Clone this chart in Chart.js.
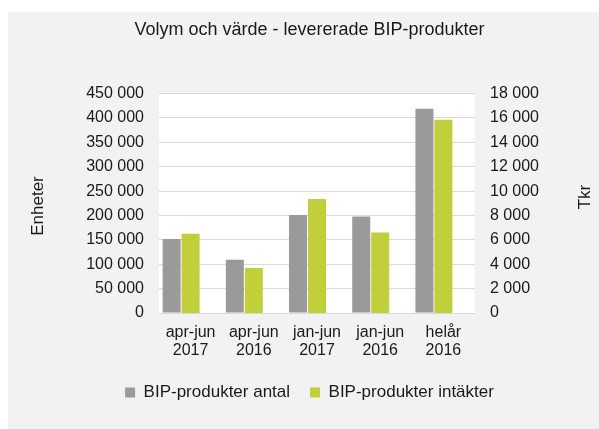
<!DOCTYPE html>
<html>
<head>
<meta charset="utf-8">
<script src="https://cdn.jsdelivr.net/npm/chart.js@4/dist/chart.umd.min.js"></script>
<style>
  html, body { margin: 0; padding: 0; background: #fff; }
</style>
</head>
<body>
<canvas id="chart" width="599" height="429"></canvas>
<script>
"use strict";

const periods = [["apr-jun", "2017"], ["apr-jun", "2016"], ["jan-jun", "2017"], ["jan-jun", "2016"], ["helår", "2016"]];
const antal = [152000, 109000, 201000, 198000, 419000];
const intakter = [6500, 3700, 9350, 6600, 15850];
const empty = [null, null, null, null, null];
const leftMax = 450000, leftStep = 50000;
const rightMax = 18000, rightStep = 2000;
const titleText = "Volym och värde - levererade BIP-produkter";
const leftTitle = "Enheter";
const rightTitle = "Tkr";

const textColor = "#1a1a1a";
const fontFamily = "'Liberation Sans', Arial, sans-serif";

function spaced(v) {
    return String(v).replace(/\B(?=(\d{3})+(?!\d))/g, " ");
}

// gray panel + white plot area
const backgroundPlugin = {
    id: "bg",
    beforeDraw(chart) {
        const ctx = chart.ctx;
        const a = chart.chartArea;
        ctx.save();
        ctx.fillStyle = "#f2f2f2";
        ctx.fillRect(8, 12, chart.width - 8, chart.height - 12);
        ctx.fillStyle = "#ffffff";
        ctx.fillRect(a.left, a.top, a.right - a.left, a.bottom - a.top);
        ctx.restore();
    }
};

// axis titles, both reading bottom to top
const axisTitlePlugin = {
    id: "axisTitles",
    afterDraw(chart) {
        const ctx = chart.ctx;
        ctx.save();
        ctx.fillStyle = textColor;
        ctx.font = "17px " + fontFamily;
        ctx.textAlign = "center";
        ctx.textBaseline = "middle";
        [[leftTitle, 38, 206], [rightTitle, 585, 197]].forEach(function(t) {
            ctx.save();
            ctx.translate(t[1], t[2]);
            ctx.rotate(-Math.PI / 2);
            ctx.fillText(t[0], 0, 0);
            ctx.restore();
        });
        ctx.restore();
    }
};

const chart = new Chart(document.getElementById("chart"), {
    type: "bar",
    data: {
        labels: periods,
        datasets: [{
            label: "BIP-produkter antal",
            data: antal,
            backgroundColor: "#9a9a9a",
            yAxisID: "y"
        }, {
            label: "BIP-produkter intäkter",
            data: intakter,
            backgroundColor: "#c0cf3a",
            yAxisID: "y2"
        }, {
            label: "",
            data: empty,
            backgroundColor: "transparent",
            yAxisID: "y"
        }]
    },
    options: {
        responsive: false,
        animation: false,
        devicePixelRatio: 1,
        categoryPercentage: 0.9,
        barPercentage: 0.95,
        layout: { padding: { left: 20, right: 0, top: 0, bottom: 18 } },
        plugins: {
            title: {
                display: true,
                text: titleText,
                color: textColor,
                font: { family: fontFamily, size: 18, weight: "normal" },
                padding: { top: 19, bottom: 53 }
            },
            legend: {
                position: "bottom",
                labels: {
                    boxWidth: 10,
                    boxHeight: 10,
                    color: textColor,
                    padding: 20,
                    font: { family: fontFamily, size: 17 },
                    filter: function(item) { return item.text !== ""; }
                }
            },
            tooltip: { enabled: false }
        },
        scales: {
            x: {
                grid: { display: false },
                border: { display: false },
                ticks: {
                    color: textColor,
                    padding: 3,
                    maxRotation: 0,
                    font: { family: fontFamily, size: 16, lineHeight: 1.12 }
                },
                afterFit(scale) { scale.height = 51; }
            },
            y: {
                position: "left",
                min: 0,
                max: leftMax,
                grid: { color: "#d9d9d9", lineWidth: 1, drawTicks: false },
                border: { display: false },
                ticks: {
                    stepSize: leftStep,
                    color: textColor,
                    padding: 15,
                    font: { family: fontFamily, size: 16 },
                    callback: function(v) { return spaced(v); }
                },
                afterFit(scale) { scale.width = 139; }
            },
            y2: {
                position: "right",
                min: 0,
                max: rightMax,
                grid: { display: false, drawTicks: false },
                border: { display: false },
                ticks: {
                    stepSize: rightStep,
                    color: textColor,
                    padding: 15,
                    font: { family: fontFamily, size: 16 },
                    callback: function(v) { return spaced(v); }
                },
                afterFit(scale) { scale.width = 124; }
            }
        }
    },
    plugins: [backgroundPlugin, axisTitlePlugin]
});
</script>
</body>
</html>
